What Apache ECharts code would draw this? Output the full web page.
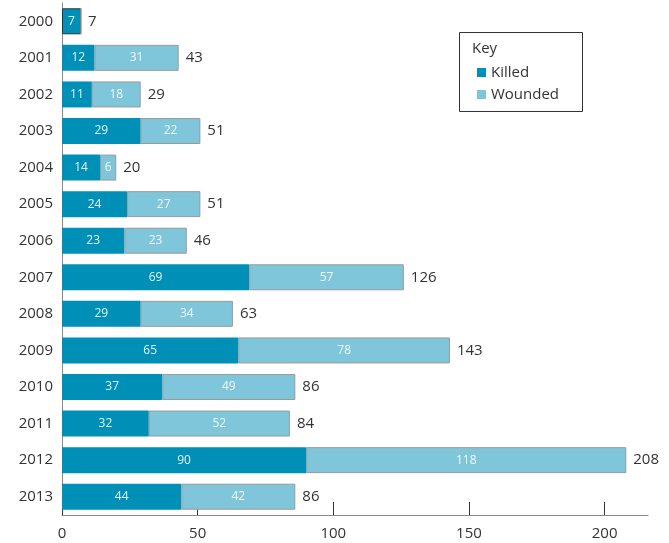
<!DOCTYPE html>
<html>
<head>
<meta charset="utf-8">
<script src="https://cdn.jsdelivr.net/npm/echarts@6/dist/echarts.min.js"></script>
<style>
  html, body { margin: 0; padding: 0; background: #fff; }
  #chart { width: 669px; height: 543px; }
</style>
</head>
<body>
<div id="chart"></div>
<script>
// years, top to bottom
var years = ['2000','2001','2002','2003','2004','2005','2006','2007','2008','2009','2010','2011','2012','2013'];
var killed = [7, 12, 11, 29, 14, 24, 23, 69, 29, 65, 37, 32, 90, 44];
var wounded = [0, 31, 18, 22, 6, 27, 23, 57, 34, 78, 49, 52, 118, 42];
var totals = [7, 43, 29, 51, 20, 51, 46, 126, 63, 143, 86, 84, 208, 86];
var xTicks = [0, 50, 100, 150, 200];

var FONT = 'Open Sans';
var chart = echarts.init(document.getElementById('chart'));

// 2000 has no wounded part, so its killed bar carries the outline
var killedData = killed.map(function(v, i){
    if (wounded[i] === 0) {
        return {value: v, itemStyle: {borderColor: '#333', borderWidth: 1}};
    }
    return v;
});

var option = {
    animation: false,
    textStyle: {fontFamily: FONT},
    grid: {left: 62, right: 21, top: 3, bottom: 28, containLabel: false},
    xAxis: {
        type: 'value',
        min: 0,
        max: 216,
        interval: 50,
        axisLine: {show: true, lineStyle: {color: '#8a8a8a', width: 1}},
        axisTick: {show: true, inside: true, length: 13, customValues: xTicks, lineStyle: {color: '#333'}},
        splitLine: {show: false},
        axisLabel: {
            color: '#333', fontSize: 15, fontFamily: FONT, margin: 11,
            customValues: xTicks
        }
    },
    yAxis: {
        type: 'category',
        data: years,
        inverse: true,
        axisLine: {show: true, lineStyle: {color: '#8a8a8a', width: 1}},
        axisTick: {show: false},
        axisLabel: {color: '#333', fontSize: 15, fontFamily: FONT, margin: 9}
    },
    legend: {
        orient: 'vertical',
        left: 472,
        top: 60,
        itemWidth: 9,
        itemHeight: 9,
        itemGap: 7,
        icon: 'rect',
        itemStyle: {borderWidth: 0},
        textStyle: {color: '#333', fontSize: 15, fontFamily: FONT},
        data: ['Killed', 'Wounded']
    },
    graphic: [
        {type: 'rect', left: 457, top: 30, shape: {width: 123, height: 79},
         style: {fill: 'none', stroke: '#333', lineWidth: 1}},
        {type: 'text', left: 472, top: 41,
         style: {text: 'Key', fill: '#333', font: '15px "Open Sans"'}}
    ],
    series: [
        {
            name: 'Killed',
            type: 'bar',
            stack: 'all',
            barWidth: 26,
            data: killedData,
            itemStyle: {color: '#008fb6'},
            label: {show: true, position: 'inside', color: '#e6f4f8', fontSize: 12, fontFamily: FONT}
        },
        {
            name: 'Wounded',
            type: 'bar',
            stack: 'all',
            barWidth: 26,
            data: wounded,
            itemStyle: {color: '#80c6db', borderColor: '#9a9a9a', borderWidth: 1},
            label: {
                show: true, position: 'inside', color: '#eef8fb', fontSize: 12, fontFamily: FONT,
                formatter: function(p){ return p.value ? p.value : ''; }
            }
        },
        {
            name: 'Total',
            type: 'bar',
            stack: 'all',
            barWidth: 26,
            data: totals.map(function(){ return 0; }),
            itemStyle: {color: 'transparent'},
            label: {
                show: true, position: 'right', distance: 7, color: '#333', fontSize: 15, fontFamily: FONT,
                formatter: function(p){ return totals[p.dataIndex]; }
            }
        }
    ]
};
chart.setOption(option);
</script>
</body>
</html>
